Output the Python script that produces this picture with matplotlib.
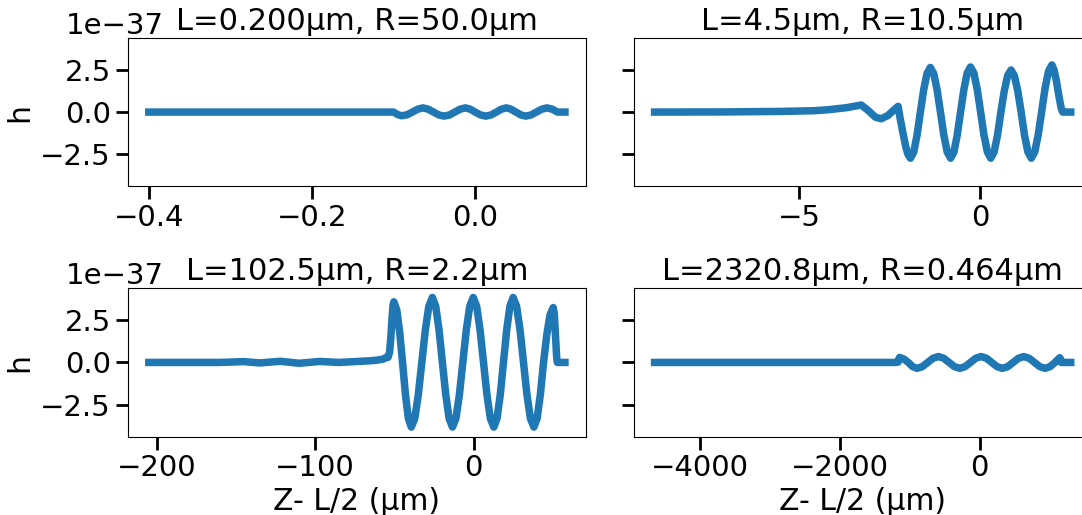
import matplotlib
matplotlib.use('Agg')
import matplotlib.pyplot as plt

# h values are in units of 1e-37
TITLES = ['L=0.200µm, R=50.0µm', 'L=4.5µm, R=10.5µm',
          'L=102.5µm, R=2.2µm', 'L=2320.8µm, R=0.464µm']

tl_x = [-0.400, -0.100, -0.095, -0.090, -0.0835, -0.077, -0.0705, -0.064, -0.0575,
        -0.051, -0.0445, -0.038, -0.0315, -0.025, -0.0185, -0.012, -0.006, 0.000,
        0.0065, 0.013, 0.0195, 0.026, 0.032, 0.038, 0.044, 0.050, 0.056, 0.062,
        0.0685, 0.075, 0.0815, 0.088, 0.0945, 0.101, 0.110]
tl_h = [0, 0, -0.15, -0.22, -0.16, 0, 0.17, 0.25, 0.17,
        0, -0.17, -0.24, -0.17, 0, 0.17, 0.25, 0.17, 0,
        -0.17, -0.24, -0.17, 0, 0.17, 0.25, 0.17, 0, -0.17, -0.24,
        -0.17, 0, 0.17, 0.25, 0.17, 0, 0]

tr_x = [-9.0, -7.0, -6.0, -5.5, -4.6, -4.2, -3.7, -3.29,
        -3.1, -2.9, -2.74, -2.55, -2.4, -2.27,
        -2.22, -2.14, -2.06, -2.0, -1.93,
        -1.838, -1.747, -1.655, -1.563, -1.472, -1.38,
        -1.287, -1.193, -1.10, -1.007, -0.913, -0.82,
        -0.728, -0.637, -0.545, -0.453, -0.362, -0.27,
        -0.177, -0.083, 0.01, 0.103, 0.197, 0.29,
        0.383, 0.477, 0.57, 0.663, 0.757, 0.85,
        0.943, 1.037, 1.13, 1.223, 1.317, 1.41,
        1.505, 1.60, 1.695, 1.79, 1.885, 1.98,
        2.04, 2.10, 2.17, 2.24, 2.28, 2.5]
tr_h = [0, 0.01, 0.03, 0.04, 0.08, 0.14, 0.26, 0.42,
        0.1, -0.3, -0.4, -0.2, 0.1, 0.34,
        -0.3, -1.2, -2.05, -2.5, -2.74,
        -2.37, -1.37, 0, 1.33, 2.29, 2.65,
        2.29, 1.33, 0, -1.37, -2.37, -2.74,
        -2.37, -1.37, 0, 1.34, 2.32, 2.68,
        2.32, 1.34, 0, -1.37, -2.37, -2.74,
        -2.37, -1.37, 0, 1.25, 2.17, 2.5,
        2.17, 1.25, 0, -1.37, -2.37, -2.74,
        -2.37, -1.37, 0, 1.4, 2.42, 2.8,
        2.5, 1.9, 1.0, 0.2, 0, 0]

bl_x = [-205, -160, -145, -135, -122, -110, -97, -85, -75, -65, -60, -57, -55,
        -54, -53, -52.2, -51.4, -50.8, -50.3,
        -48.47, -46.63, -44.8, -42.97, -41.13, -39.3,
        -37.08, -34.87, -32.65, -30.43, -28.22, -26.0,
        -23.88, -21.77, -19.65, -17.53, -15.42, -13.3,
        -11.12, -8.93, -6.75, -4.57, -2.38, -0.2,
        1.97, 4.13, 6.3, 8.47, 10.63, 12.8,
        14.83, 16.87, 18.9, 20.93, 22.97, 25.0,
        27.18, 29.37, 31.55, 33.73, 35.92, 38.1,
        40.13, 42.17, 44.2, 46.23, 48.27, 50.3,
        51.0, 51.8, 52.5, 52.9, 57.7]
bl_h = [0, 0, 0.05, -0.03, 0.07, -0.05, 0.06, 0.0, 0.05, 0.1, 0.15, 0.2, 0.3,
        0.3, 0.6, 1.5, 2.7, 3.4, 3.6,
        3.12, 1.8, 0, -1.92, -3.33, -3.84,
        -3.33, -1.92, 0, 1.93, 3.34, 3.86,
        3.34, 1.93, 0, -1.92, -3.33, -3.84,
        -3.33, -1.92, 0, 1.93, 3.34, 3.86,
        3.34, 1.93, 0, -1.92, -3.33, -3.84,
        -3.33, -1.92, 0, 1.93, 3.34, 3.86,
        3.34, 1.93, 0, -1.92, -3.33, -3.84,
        -3.33, -1.92, 0, 1.63, 2.82, 3.26,
        2.9, 1.5, 0.3, 0, 0]

br_x = [-4641.6, -1200, -1165, -1155, -1143, -1081, -1019, -957, -895,
        -819, -742, -666, -590, -514, -437, -361, -285,
        -209, -132, -56, 20, 96, 172, 249, 325,
        401, 477, 554, 630, 706, 782, 859, 935,
        1005, 1075, 1143, 1155, 1165, 1300]
br_h = [0, 0, 0.02, 0.2, 0.3, 0.2, 0, -0.25, -0.35,
        -0.25, 0, 0.25, 0.35, 0.25, 0, -0.25, -0.35,
        -0.25, 0, 0.25, 0.35, 0.25, 0, -0.25, -0.35,
        -0.25, 0, 0.25, 0.35, 0.25, 0, -0.25, -0.35,
        -0.25, 0, 0.28, 0.2, 0.0, 0]

SCALE = 1e-37


def main():
    plt.rcParams['font.size'] = 21
    fig, axes = plt.subplots(2, 2, sharey=True, figsize=(10.82, 5.15), dpi=100)
    fig.subplots_adjust(left=0.1183, right=1.0088, bottom=0.1524, top=0.9262,
                        wspace=0.105, hspace=0.69)

    series = [(tl_x, tl_h), (tr_x, tr_h), (bl_x, bl_h), (br_x, br_h)]
    for ax, (xs, hs), title in zip(axes.flat, series, TITLES):
        ax.plot(xs, [v * SCALE for v in hs], color='#1f77b4', lw=5.4,
                solid_joinstyle='round')
        ax.set_title(title, fontsize=22)
        ax.tick_params(labelsize=21, length=9, width=2)

    axes[0, 0].set_ylim(-4.4e-37, 4.4e-37)
    axes[0, 0].set_yticks([-2.5e-37, 0, 2.5e-37])
    for ax in axes[:, 0]:
        ax.set_ylabel('h', fontsize=21.5)
        off = ax.yaxis.get_offset_text()
        off.set_fontsize(21)
        off.set_x(-0.135)
        off.set_horizontalalignment('left')
    for ax in axes[1, :]:
        ax.set_xlabel('Z- L/2 (µm)', fontsize=21.5)

    fig.savefig('out.png', dpi=100)


if __name__ == '__main__':
    main()
